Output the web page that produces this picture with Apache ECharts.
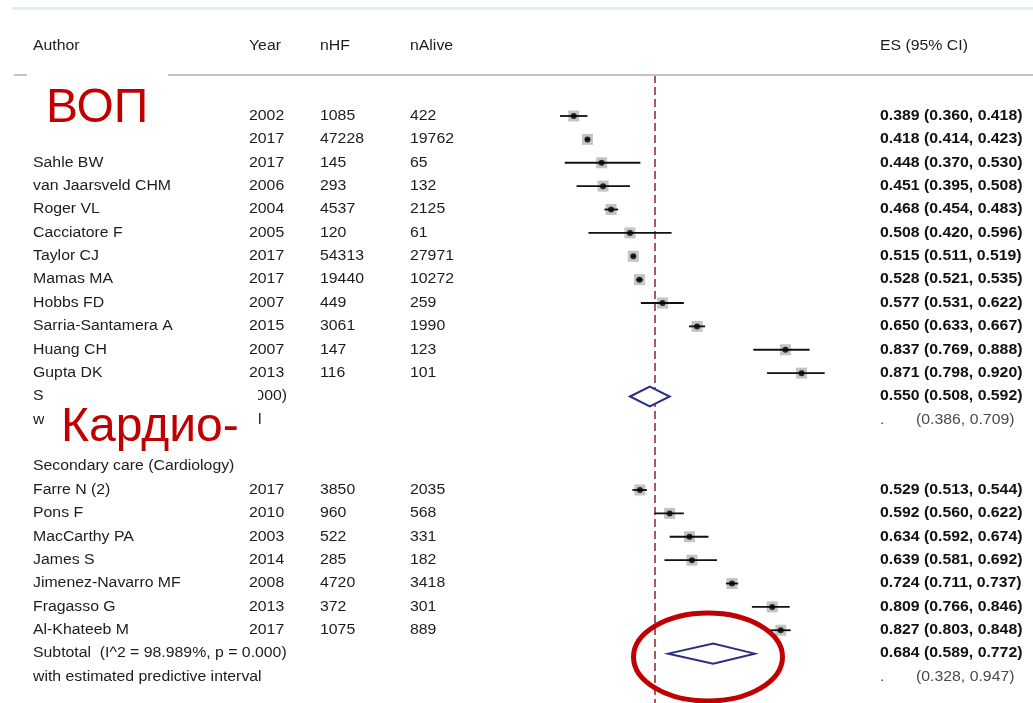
<!DOCTYPE html>
<html><head><meta charset="utf-8">
<script src="https://cdn.jsdelivr.net/npm/echarts@6/dist/echarts.min.js"></script>
<style>html,body{margin:0;padding:0;background:#fff}#c{width:1033px;height:703px}</style>
</head><body><div id="c"></div>
<script>
// ---------------- DATA ----------------
const headers = ["Author", "Year", "nHF", "nAlive", "ES (95% CI)"];

const authors1 = ["", "", "Sahle BW", "van Jaarsveld CHM", "Roger VL", "Cacciatore F", "Taylor CJ", "Mamas MA", "Hobbs FD", "Sarria-Santamera A", "Huang CH", "Gupta DK"];
const years1   = [2002, 2017, 2017, 2006, 2004, 2005, 2017, 2017, 2007, 2015, 2007, 2013];
const nHF1     = [1085, 47228, 145, 293, 4537, 120, 54313, 19440, 449, 3061, 147, 116];
const nAlive1  = [422, 19762, 65, 132, 2125, 61, 27971, 10272, 259, 1990, 123, 101];
const es1      = [0.389, 0.418, 0.448, 0.451, 0.468, 0.508, 0.515, 0.528, 0.577, 0.650, 0.837, 0.871];
const lo1      = [0.360, 0.414, 0.370, 0.395, 0.454, 0.420, 0.511, 0.521, 0.531, 0.633, 0.769, 0.798];
const hi1      = [0.418, 0.423, 0.530, 0.508, 0.483, 0.596, 0.519, 0.535, 0.622, 0.667, 0.888, 0.920];
const subtotal1 = [0.550, 0.508, 0.592];   // es, lo, hi
const predInt1  = [0.386, 0.709];

const groupLabel2 = "Secondary care (Cardiology)";
const authors2 = ["Farre N (2)", "Pons F", "MacCarthy PA", "James S", "Jimenez-Navarro MF", "Fragasso G", "Al-Khateeb M"];
const years2   = [2017, 2010, 2003, 2014, 2008, 2013, 2017];
const nHF2     = [3850, 960, 522, 285, 4720, 372, 1075];
const nAlive2  = [2035, 568, 331, 182, 3418, 301, 889];
const es2      = [0.529, 0.592, 0.634, 0.639, 0.724, 0.809, 0.827];
const lo2      = [0.513, 0.560, 0.592, 0.581, 0.711, 0.766, 0.803];
const hi2      = [0.544, 0.622, 0.674, 0.692, 0.737, 0.846, 0.848];
const subtotal2 = [0.684, 0.589, 0.772];
const predInt2  = [0.328, 0.947];
const subtotalLabel2 = "Subtotal  (I^2 = 98.989%, p = 0.000)";
const subtotalLabel1 = "Subtotal";
const subtotalTail1 = "p = 0.000)";
const predLabel = "with estimated predictive interval";

const overallES = 0.565;
const overlayLabels = ["ВОП", "Кардио-"];

// ---------------- LAYOUT ----------------
const W = 1033, H = 703;
const X0 = 389.9, PPU = 472.6;          // pixel of value 0, pixels per unit
const ROW0 = 116, PITCH = 23.375;       // first row centre, row pitch
const GRID_TOP = 75;
const COL = {author: 33, year: 249, nhf: 320, nalive: 410, es: 880, pi: 916, tail1: 287};
const SX = 1.13;
const FONT = '14px "Liberation Sans", Arial, sans-serif';
const FONTB = 'bold 14px "Liberation Sans", Arial, sans-serif';
const TXT = '#1c1c1c';

// ---------------- BUILD ROWS ----------------
const fmt = v => v.toFixed(3);
const rows = [];
const studies = [];
const diamonds = [];
function addStudies(a, y, n, al, e, l, h) {
  for (let i = 0; i < a.length; i++) {
    const r = rows.length;
    rows.push({kind: 'study', author: a[i], year: String(y[i]), nhf: String(n[i]), nalive: String(al[i]),
      es: fmt(e[i]) + ' (' + fmt(l[i]) + ', ' + fmt(h[i]) + ')'});
    studies.push([e[i], r, l[i], h[i]]);
  }
}
addStudies(authors1, years1, nHF1, nAlive1, es1, lo1, hi1);
diamonds.push([subtotal1[0], rows.length, subtotal1[1], subtotal1[2]]);
rows.push({kind: 'sub', author: subtotalLabel1, tail: subtotalTail1,
  es: fmt(subtotal1[0]) + ' (' + fmt(subtotal1[1]) + ', ' + fmt(subtotal1[2]) + ')'});
rows.push({kind: 'pi', author: predLabel, pi: '(' + fmt(predInt1[0]) + ', ' + fmt(predInt1[1]) + ')'});
rows.push({kind: 'blank'});
rows.push({kind: 'group', author: groupLabel2});
addStudies(authors2, years2, nHF2, nAlive2, es2, lo2, hi2);
diamonds.push([subtotal2[0], rows.length, subtotal2[1], subtotal2[2]]);
rows.push({kind: 'sub', author: subtotalLabel2,
  es: fmt(subtotal2[0]) + ' (' + fmt(subtotal2[1]) + ', ' + fmt(subtotal2[2]) + ')'});
rows.push({kind: 'pi', author: predLabel, pi: '(' + fmt(predInt2[0]) + ', ' + fmt(predInt2[1]) + ')'});

function txt(x, y, text, extra) {
  return Object.assign({type: 'text', x: x, y: y, scaleX: SX, style: {
    text: text, fill: TXT, font: FONT, align: 'left', textAlign: 'left',
    verticalAlign: 'middle', textVerticalAlign: 'middle'}}, extra || {});
}

const chart = echarts.init(document.getElementById('c'), null, {renderer: 'canvas'});
const option = {
  animation: false,
  backgroundColor: '#fff',
  grid: {left: 0, right: 0, top: GRID_TOP, bottom: 0, containLabel: false},
  xAxis: {type: 'value', min: -X0 / PPU, max: (W - X0) / PPU, show: false},
  yAxis: {type: 'value', inverse: true, min: (GRID_TOP - ROW0) / PITCH, max: (H - ROW0) / PITCH, show: false},
  series: [
    { // table text
      type: 'custom', silent: true, z: 3,
      data: rows.map((r, i) => [0, i]),
      renderItem: function (params, api) {
        const r = rows[params.dataIndex];
        const y = api.coord([0, api.value(1)])[1];
        const k = [];
        if (r.author) k.push(txt(COL.author, y, r.author));
        if (r.kind === 'study') {
          k.push(txt(COL.year, y, r.year));
          k.push(txt(COL.nhf, y, r.nhf));
          k.push(txt(COL.nalive, y, r.nalive));
        }
        if (r.tail) {
          const t = txt(COL.tail1, y, r.tail);
          t.style.align = 'right'; t.style.textAlign = 'right';
          k.push(t);
        }
        if (r.es) {
          const t = txt(COL.es, y, r.es);
          t.style.font = FONTB; t.style.fill = '#111';
          k.push(t);
        }
        if (r.pi) {
          const d = txt(COL.es, y, '.'); d.style.fill = '#4a4a4a';
          const p = txt(COL.pi, y, r.pi); p.style.fill = '#4a4a4a';
          k.push(d, p);
        }
        return {type: 'group', children: k};
      }
    },
    { // weight boxes
      type: 'scatter', symbol: 'rect', symbolSize: 11, z: 2, silent: true,
      itemStyle: {color: '#b4b4b4'},
      data: studies.map(s => [s[0], s[1]]),
      markLine: {
        silent: true, symbol: 'none', label: {show: false}, z: 1,
        lineStyle: {type: [8, 4], color: '#962f3f', width: 1.6},
        data: [{xAxis: overallES}]
      }
    },
    { // CI lines
      type: 'custom', silent: true, z: 3,
      data: studies.map(s => [s[2], s[1], s[3]]),
      renderItem: function (params, api) {
        const a = api.coord([api.value(0), api.value(1)]);
        const b = api.coord([api.value(2), api.value(1)]);
        return {type: 'line', shape: {x1: a[0], y1: a[1], x2: b[0], y2: b[1]},
          style: {stroke: '#111', lineWidth: 1.8}};
      }
    },
    { // point estimates
      type: 'scatter', symbol: 'circle', symbolSize: 6, z: 4, silent: true,
      itemStyle: {color: '#000'},
      data: studies.map(s => [s[0], s[1]])
    },
    { // subtotal diamonds
      type: 'custom', silent: true, z: 4,
      data: diamonds.map(d => [d[0], d[1], d[2], d[3]]),
      renderItem: function (params, api) {
        const row = api.value(1);
        const c = api.coord([api.value(0), row]);
        const l = api.coord([api.value(2), row]);
        const r = api.coord([api.value(3), row]);
        const h = 10;
        return {type: 'polygon', shape: {points: [[l[0], c[1]], [c[0], c[1] - h], [r[0], c[1]], [c[0], c[1] + h]]},
          style: {fill: '#fff', stroke: '#2b2f7e', lineWidth: 2}};
      }
    }
  ],
  graphic: [
    {type: 'rect', shape: {x: 12, y: 7, width: W - 12, height: 3}, style: {fill: '#dcedf4'}, z: 10},
    {type: 'rect', shape: {x: 14, y: 74, width: W - 14, height: 2}, style: {fill: '#c4c4c4'}, z: 10},
    txt(COL.author, 46, headers[0], {z: 10}),
    txt(COL.year, 46, headers[1], {z: 10}),
    txt(COL.nhf, 46, headers[2], {z: 10}),
    txt(COL.nalive, 46, headers[3], {z: 10}),
    txt(COL.es, 46, headers[4], {z: 10}),
    {type: 'rect', shape: {x: 27, y: 72, width: 141, height: 74}, style: {fill: '#fff'}, z: 20},
    {type: 'rect', shape: {x: 44, y: 386, width: 214, height: 68}, style: {fill: '#fff'}, z: 20},
    {type: 'text', x: 46, y: 109, z: 30, style: {text: overlayLabels[0], fill: '#c00000',
      font: '48px "Liberation Sans", Arial, sans-serif', align: 'left', textAlign: 'left', verticalAlign: 'middle', textVerticalAlign: 'middle'}},
    {type: 'text', x: 61, y: 428, z: 30, style: {text: overlayLabels[1], fill: '#c00000',
      font: '48px "Liberation Sans", Arial, sans-serif', align: 'left', textAlign: 'left', verticalAlign: 'middle', textVerticalAlign: 'middle'}},
    {type: 'ellipse', shape: {cx: 708, cy: 657, rx: 74.5, ry: 44}, z: 30,
      style: {fill: 'none', stroke: '#c00000', lineWidth: 5}}
  ]
};
chart.setOption(option);
</script></body></html>
